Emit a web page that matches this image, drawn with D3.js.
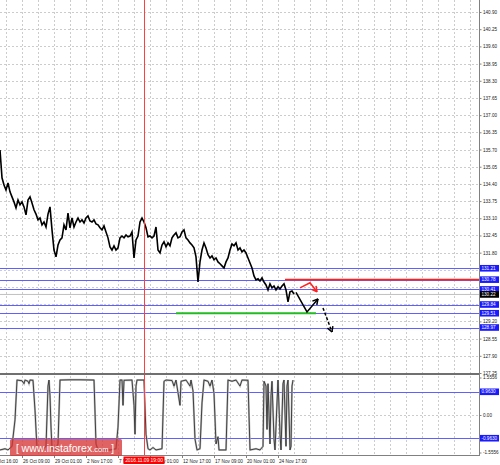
<!DOCTYPE html>
<html><head><meta charset="utf-8">
<script src="https://cdn.jsdelivr.net/npm/d3@7"></script>
<style>body{margin:0;background:#fff}svg{display:block}</style>
</head><body>
<svg id="c" width="500" height="465"></svg>
<script>
// ---------- DATA ----------
const priceTicks = ["140.90","140.25","139.60","138.95","138.30","137.65","137.00","136.35","135.70","135.05","134.40","133.75","133.10","132.45","131.80","131.15","130.50","129.85","129.20","128.55","127.90","127.25"];
// close prices, one per bar
const prices = [135.68,134.63,134.36,134.17,134.44,134.10,133.91,133.72,133.49,133.79,133.61,133.72,133.53,133.23,133.79,133.91,
133.68,133.42,133.26,133.04,133.11,132.85,132.96,132.77,133.26,133.53,132.66,131.90,131.64,132.09,132.28,132.36,
132.85,132.66,133.30,132.74,133.11,132.77,132.96,133.11,132.96,133.04,132.92,133.11,133.19,133.00,132.96,133.04,
132.89,132.85,132.74,132.66,132.81,132.58,132.36,132.02,131.90,132.06,131.90,131.98,132.36,132.43,132.36,132.47,
132.40,132.43,132.58,131.60,132.28,132.43,132.96,133.11,132.96,132.74,132.40,132.43,132.36,132.43,132.77,131.90,
131.79,132.09,132.21,132.02,132.17,132.06,132.36,132.47,132.55,132.36,132.40,132.58,132.66,132.36,132.28,132.17,
132.09,131.98,131.64,130.69,131.45,131.90,132.17,131.98,131.72,131.60,131.68,131.53,131.60,131.45,131.38,131.30,
131.22,131.45,131.60,131.90,132.13,132.06,132.17,131.90,131.98,131.83,131.90,131.79,131.60,131.41,131.22,130.92,
130.77,130.81,130.73,130.85,130.69,130.58,130.39,130.62,130.47,130.54,130.39,130.51,130.43,130.54,130.62,130.39,
129.94,130.32,130.35,130.24];
const blueLevels = [131.21,130.78,130.41,129.84,129.51,128.97];
const resistance = {price:130.78, from:142.5};
const support = {price:129.51, from:88, to:158};
const bidPrice = 130.22;
const timeTicks = [-5,11,27,43,59,75,91,107,123,139];
const timeLabels = ["24 Oct 16:00","26 Oct 09:00","29 Oct 01:00","2 Nov 17:00","7 Nov 09:00","11 Nov 01:00","12 Nov 17:00","17 Nov 09:00","20 Nov 01:00","24 Nov 17:00"];
const markerBar = 72;
const markerLabel = "2016.11.09 19:00";
// oscillator [bar, value]
const indicator = [[0,-1.45],[2.5,-1.4],[4,-1.45],[6,-1.3],[7.5,-0.2],[8.5,1.45],[11,1.42],[12,1.3],[12.5,1.45],[14,1.4],[14.5,1.3],[15,1.45],[16.5,1.44],[17.5,0.2],[18.5,-1.4],[21,-1.45],[23,-1.3],[24,1.2],[24.5,1.45],[25,0.8],[25.5,-0.5],[26,-1.4],[27.5,-1.45],[29,-1.2],[30,1.45],[35,1.46],[40,1.46],[47,1.45],[48,-1.2],[49,-1.45],[55,-1.45],[58,-1.4],[59,-0.5],[60,1.45],[61,1.45],[61.5,0.4],[62,1.44],[66,1.45],[67,0.4],[67.5,-0.8],[68,1.2],[68.5,1.45],[72,1.45],[73,-0.8],[74,-1.4],[75,-1.45],[76.5,-1.35],[78,-1.45],[81,-1.4],[82,1.4],[83,1.45],[86,1.43],[87,1.2],[88,1.45],[90,0.4],[90.5,1.4],[93,1.45],[95,1.2],[95.5,1.45],[96.5,1.0],[97.5,-1.0],[98.5,-1.45],[100,-1.4],[101,0.5],[102,1.45],[104,1.4],[105,1.2],[106,1.45],[107,0.9],[108,-1.2],[109,-0.9],[109.5,-1.45],[113,-1.45],[114,1.45],[116,1.4],[118,1.45],[120,1.2],[121,1.45],[124,1.44],[125,-1.45],[128,-1.4],[130,-1.45],[131.5,-1.3],[132,1.4],[133,1.2],[133.5,-0.6],[134,1.3],[135,-1.2],[135.5,0.8],[136,1.4],[137,-1.0],[137.5,-1.45],[138.5,0.5],[139,1.45],[140,-0.8],[140.5,-1.45],[141.5,1.3],[142,1.45],[143,-1.3],[143.5,1.2],[144,1.45],[145,-1.45],[145.5,-1.3],[146,1.2],[146.5,1.45]];
const indLevels = [0.9630,-0.9630];
const indLevelLabels = ["0.9630","-0.9630"];
const indTicks = [1.5556,0,-1.5556];
const indTickLabels = ["1.5556","0.00","-1.5556"];
const redArrow = [[150,130.47],[155,130.66],[158.5,130.32]];
const blackArrow = [[148,130.30],[153.5,129.56],[159,130.05]];
const dashArrow = [[161.5,129.71],[166,128.80]];

// ---------- LAYOUT ----------
const svg = d3.select("#c");
const R = 479, mainBot = 374, indTop = 376, indBot = 455;
const x = d3.scaleLinear().domain([0,239.5]).range([0,R]);
const y = d3.scaleLinear().domain([127.25,140.90]).range([373,12]);
const yi = d3.scaleLinear().domain([-1.5556,1.5556]).range([452.5,377.5]);
const FONT = "Liberation Sans, Arial, sans-serif";

svg.append("rect").attr("width",500).attr("height",465).attr("fill","#fff");
const defs = svg.append("defs");
defs.append("clipPath").attr("id","cm").append("rect").attr("x",0).attr("y",0).attr("width",R).attr("height",mainBot);
defs.append("clipPath").attr("id","ci").append("rect").attr("x",0).attr("y",indTop).attr("width",R).attr("height",indBot-indTop);

const gm = svg.append("g").attr("clip-path","url(#cm)");
const gi = svg.append("g").attr("clip-path","url(#ci)");

// grid
const gridBars = d3.range(3,240,8);
[gm, gi].forEach((g,k)=>{
  g.selectAll(null).data(gridBars).enter().append("line")
   .attr("x1",d=>x(d)+0.5).attr("x2",d=>x(d)+0.5)
   .attr("y1",k?indTop:0).attr("y2",k?indBot:mainBot)
   .attr("stroke","#cccccc").attr("stroke-dasharray","2,2").attr("stroke-width",1);
});
gm.selectAll(null).data(priceTicks).enter().append("line")
  .attr("x1",0).attr("x2",R).attr("y1",d=>Math.round(y(+d))+0.5).attr("y2",d=>Math.round(y(+d))+0.5)
  .attr("stroke","#cccccc").attr("stroke-dasharray","2,2");
gi.append("line").attr("x1",0).attr("x2",R).attr("y1",Math.round(yi(0))+0.5).attr("y2",Math.round(yi(0))+0.5)
  .attr("stroke","#cccccc").attr("stroke-dasharray","2,2");

// levels
gm.append("line").attr("x1",0).attr("x2",R).attr("y1",y(bidPrice)).attr("y2",y(bidPrice)).attr("stroke","#c0c0c0");
gm.selectAll(null).data(blueLevels).enter().append("line")
  .attr("x1",0).attr("x2",R).attr("y1",d=>Math.round(y(d))+0.5).attr("y2",d=>Math.round(y(d))+0.5)
  .attr("stroke","#6060ff").attr("stroke-width",1);
gm.append("line").attr("x1",x(resistance.from)).attr("x2",R).attr("y1",y(resistance.price)).attr("y2",y(resistance.price))
  .attr("stroke","#ff2020").attr("stroke-width",1.8);
gm.append("line").attr("x1",x(support.from)).attr("x2",x(support.to)).attr("y1",y(support.price)).attr("y2",y(support.price))
  .attr("stroke","#22bb22").attr("stroke-width",1.8);

// price series
const line = d3.line().x((d,i)=>x(i)).y(d=>y(d));
gm.append("path").datum(prices).attr("d",line).attr("fill","none").attr("stroke","#000").attr("stroke-width",1.6).attr("stroke-linejoin","miter");

// arrows
const pl = d3.line().x(d=>x(d[0])).y(d=>y(d[1]));
function arrow(pts,color,dash){
  gm.append("path").datum(pts).attr("d",pl).attr("fill","none").attr("stroke",color).attr("stroke-width",1.5)
    .attr("stroke-dasharray",dash||null);
  const a = pts[pts.length-2], b = pts[pts.length-1];
  const ax=x(a[0]), ay=y(a[1]), bx=x(b[0]), by=y(b[1]);
  const ang = Math.atan2(by-ay,bx-ax), L=6;
  [0.5,-0.5].forEach(s=>{
    gm.append("line").attr("x1",bx).attr("y1",by)
      .attr("x2",bx-L*Math.cos(ang+s)).attr("y2",by-L*Math.sin(ang+s))
      .attr("stroke",color).attr("stroke-width",1.5);
  });
}
arrow(redArrow,"#ff2020");
arrow(blackArrow,"#000");
arrow(dashArrow,"#000","3,2");

// indicator
const il = d3.line().x(d=>x(d[0])).y(d=>yi(d[1]));
gi.selectAll(null).data(indLevels).enter().append("line")
  .attr("x1",0).attr("x2",R).attr("y1",d=>Math.round(yi(d))+0.5).attr("y2",d=>Math.round(yi(d))+0.5).attr("stroke","#6060ff");
gi.append("path").datum(indicator).attr("d",il).attr("fill","none").attr("stroke","#bdbdbd").attr("stroke-width",2);
gi.append("path").datum(indicator).attr("d",il).attr("fill","none").attr("stroke","#333").attr("stroke-width",0.9);

// vertical marker line
svg.append("line").attr("x1",x(markerBar)+0.5).attr("x2",x(markerBar)+0.5).attr("y1",0).attr("y2",indBot)
  .attr("stroke","#ff4040").attr("stroke-width",1);

// frame
svg.append("rect").attr("x",0).attr("y",mainBot-1).attr("width",R+1).attr("height",2).attr("fill","#707070");
svg.append("line").attr("x1",0).attr("x2",R+1).attr("y1",indBot+0.5).attr("y2",indBot+0.5).attr("stroke","#808080");
svg.append("line").attr("x1",R+0.5).attr("x2",R+0.5).attr("y1",0).attr("y2",indBot).attr("stroke","#808080");

// right axis (main) — tick labels that sit under a price box are not drawn (hidden in the reference)
const boxYs = blueLevels.concat([bidPrice]).map(v=>y(v));
const ax = svg.append("g").attr("transform",`translate(${R+0.5},0)`)
  .call(d3.axisRight(y).tickValues(priceTicks.map(Number)).tickFormat((d,i)=>priceTicks[i]).tickSize(2).tickPadding(1.5));
ax.select(".domain").remove();
ax.selectAll("line").attr("stroke","#808080");
ax.selectAll("text").attr("font-size",4.6).attr("font-family",FONT).attr("fill","#222");
ax.selectAll(".tick").filter(d=>boxYs.some(b=>Math.abs(b-y(d))<6)).select("text").remove();

// right axis (indicator)
const ai = svg.append("g").attr("transform",`translate(${R+0.5},0)`)
  .call(d3.axisRight(yi).tickValues(indTicks).tickFormat((d,i)=>indTickLabels[i]).tickSize(2).tickPadding(1.5));
ai.select(".domain").remove();
ai.selectAll("line").attr("stroke","#808080");
ai.selectAll("text").attr("font-size",4.6).attr("font-family",FONT).attr("fill","#222");

// price boxes
function box(v, sc, label, fill){
  const cy = sc(v);
  svg.append("rect").attr("x",R+1).attr("y",cy-3.3).attr("width",19).attr("height",6.6).attr("fill",fill);
  svg.append("text").attr("x",R+2.5).attr("y",cy).attr("dy","0.35em").attr("font-size",4.6).attr("font-family",FONT)
    .attr("fill","#fff").text(label);
}
blueLevels.forEach(v=>box(v,y,v.toFixed(2),"#1a1aff"));
box(bidPrice,y,bidPrice.toFixed(2),"#000");
indLevels.forEach((v,i)=>box(v,yi,indLevelLabels[i],"#1a1aff"));

// time axis
const tg = svg.append("g");
tg.selectAll(null).data(timeTicks).enter().append("line")
  .attr("x1",d=>x(d)+0.5).attr("x2",d=>x(d)+0.5).attr("y1",indBot).attr("y2",indBot+3).attr("stroke","#808080");
tg.selectAll(null).data(timeTicks).enter().append("text")
  .attr("x",d=>x(d)+1).attr("y",462.5).attr("font-size",4.7).attr("font-family",FONT).attr("fill","#222")
  .text((d,i)=>timeLabels[i]);
const mx = x(markerBar);
svg.append("rect").attr("x",mx-20.5).attr("y",456.5).attr("width",41).attr("height",7.5).attr("fill","#ff0000");
svg.append("text").attr("x",mx).attr("y",462.3).attr("text-anchor","middle").attr("font-size",4.9)
  .attr("font-family",FONT).attr("fill","#fff").text(markerLabel);

// watermark
svg.append("rect").attr("x",10).attr("y",439).attr("width",112).attr("height",17).attr("rx",1.5)
  .attr("fill","rgba(215,55,55,0.78)");
const wt = svg.append("text").attr("x",16).attr("y",452).attr("font-family",FONT).attr("fill","#fff");
wt.append("tspan").attr("font-size",10).text("[ ");
wt.append("tspan").attr("font-size",10.5).text("www.instaforex");
wt.append("tspan").attr("font-size",7.5).text(".com");
wt.append("tspan").attr("font-size",10).text(" ]");
</script></body></html>
